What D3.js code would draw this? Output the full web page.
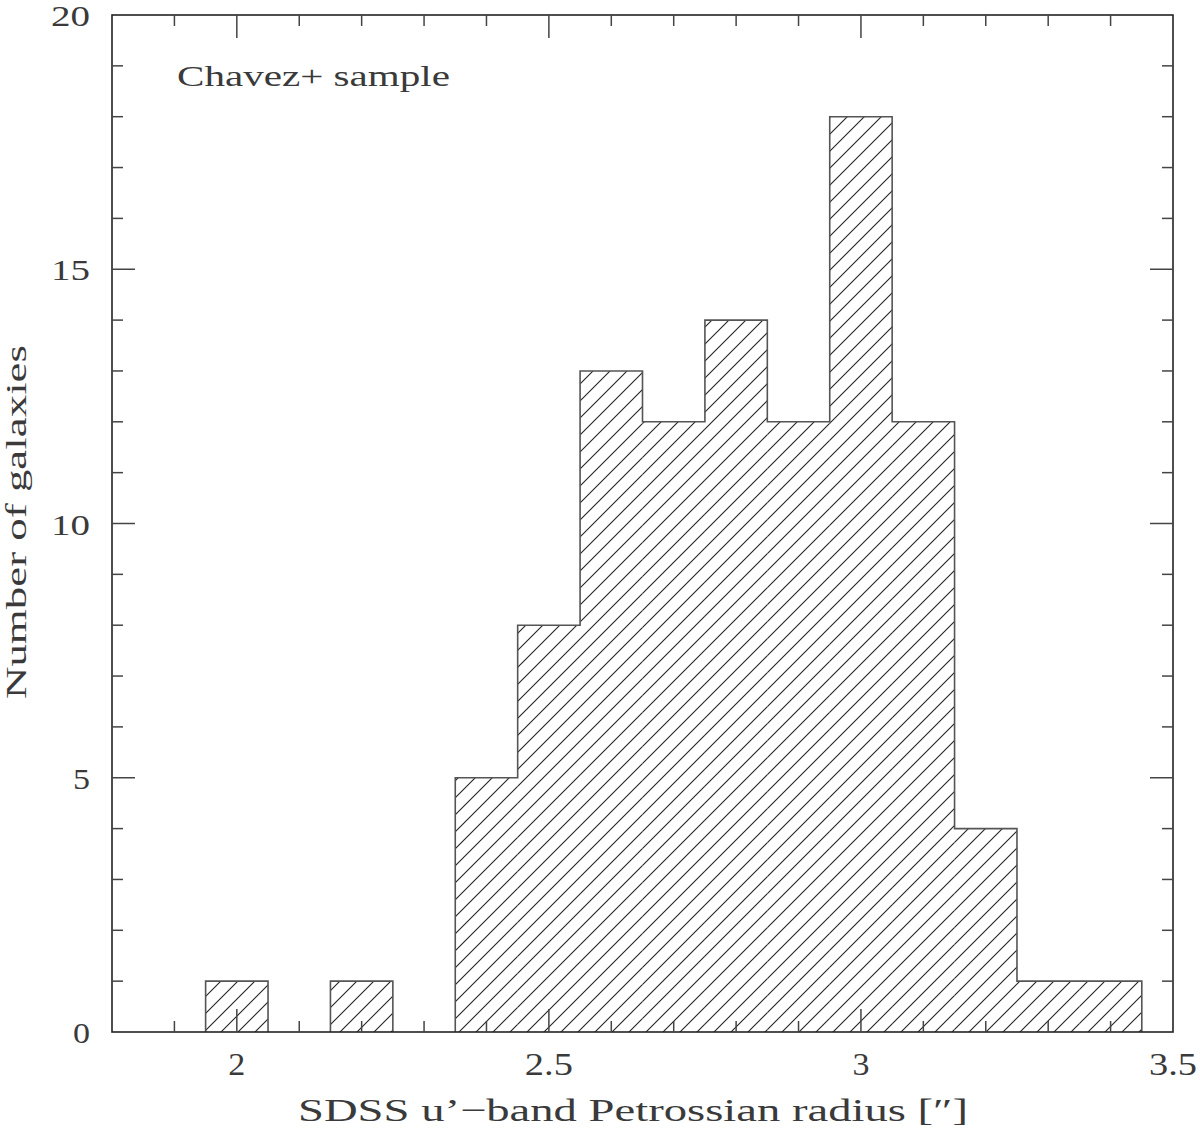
<!DOCTYPE html>
<html><head><meta charset="utf-8">
<script src="https://cdn.jsdelivr.net/npm/d3@7"></script>
<style>body{margin:0;background:#fff}text{font-family:"Liberation Serif","DejaVu Serif",serif;fill:#3a3a3a}</style>
</head><body><svg id="c" width="1200" height="1130"></svg>
<script>
const binLeft = [1.95, 2.15, 2.35, 2.45, 2.55, 2.65, 2.75, 2.85, 2.95, 3.05, 3.15, 3.25, 3.35];
const counts  = [1, 1, 5, 8, 13, 12, 14, 12, 18, 12, 4, 1, 1];
const binWidth = 0.1;
const xTicks = [2, 2.5, 3, 3.5];
const yTicks = [0, 5, 10, 15, 20];
const xLabel = "SDSS u\u2019\u2212band Petrossian radius [\u2033]";
const yLabel = "Number of galaxies";
const note = "Chavez+ sample";

const svg = d3.select("#c");
const L=112, R=1173, T=15, B=1032;
const x = d3.scaleLinear().domain([1.8,3.5]).range([L,R]);
const y = d3.scaleLinear().domain([0,20]).range([B,T]);

const defs = svg.append("defs");
const s = 17;
const pat = defs.append("pattern").attr("id","hatch").attr("patternUnits","userSpaceOnUse")
  .attr("width",s).attr("height",s).attr("x",0).attr("y",B);
pat.append("path").attr("d",`M${-s/2},${s/2} L${s/2},${-s/2} M0,${s} L${s},0 M${s/2},${s*1.5} L${s*1.5},${s/2}`)
  .attr("stroke","#222").attr("stroke-width",1.1).attr("fill","none");

// bins
const bins = binLeft.map((b,i)=>({x0:+b.toFixed(2),x1:+(b+binWidth).toFixed(2),n:counts[i]}));
svg.append("g").selectAll("rect").data(bins).join("rect")
  .attr("x",d=>x(d.x0)).attr("width",d=>x(d.x1)-x(d.x0))
  .attr("y",d=>y(d.n)).attr("height",d=>y(0)-y(d.n))
  .attr("fill","url(#hatch)");

// outline as step path for contiguous groups
const groups = [];
bins.forEach(d=>{
  const g = groups[groups.length-1];
  if (g && Math.abs(g[g.length-1].x1 - d.x0) < 1e-6) g.push(d); else groups.push([d]);
});
const line = d3.line().x(p=>x(p[0])).y(p=>y(p[1]));
groups.forEach(g=>{
  const pts = [[g[0].x0,0]];
  g.forEach(d=>{ pts.push([d.x0,d.n]); pts.push([d.x1,d.n]); });
  pts.push([g[g.length-1].x1,0]);
  svg.append("path").attr("d",line(pts)).attr("fill","none")
    .attr("stroke","#555").attr("stroke-width",1.6);
});

// frame
svg.append("rect").attr("x",L).attr("y",T).attr("width",R-L).attr("height",B-T)
  .attr("fill","none").attr("stroke","#222").attr("stroke-width",1.6);

// ticks
const tk = svg.append("g").attr("stroke","#444").attr("stroke-width",1.5);
const xMinor = d3.range(1.9,3.45,0.1).map(v=>+v.toFixed(2));
xMinor.forEach(v=>{
  const major = xTicks.some(t=>Math.abs(t-v)<1e-6);
  const len = major?23:11;
  tk.append("line").attr("x1",x(v)).attr("x2",x(v)).attr("y1",B).attr("y2",B-len);
  tk.append("line").attr("x1",x(v)).attr("x2",x(v)).attr("y1",T).attr("y2",T+len);
});
d3.range(1,20).forEach(v=>{
  const major = v%5===0;
  const len = major?23:11;
  tk.append("line").attr("y1",y(v)).attr("y2",y(v)).attr("x1",L).attr("x2",L+len);
  tk.append("line").attr("y1",y(v)).attr("y2",y(v)).attr("x1",R).attr("x2",R-len);
});

// tick labels
svg.append("g").selectAll("text").data(xTicks).join("text")
  .attr("x",d=>x(d)).attr("y",B+43).attr("text-anchor","middle")
  .attr("font-size",31).attr("lengthAdjust","spacingAndGlyphs")
  .attr("textLength",d=>String(d).length===1?17:48).text(d=>d);
svg.append("g").selectAll("text").data(yTicks).join("text")
  .attr("x",L-22).attr("y",d=>y(d)+11).attr("text-anchor","end")
  .attr("font-size",30).attr("lengthAdjust","spacingAndGlyphs")
  .attr("textLength",d=>String(d).length===1?17:39).text(d=>d);

svg.append("text").attr("x",633).attr("y",1121).attr("text-anchor","middle")
  .attr("font-size",32).attr("textLength",670).attr("lengthAdjust","spacingAndGlyphs").text(xLabel);
svg.append("text").attr("transform",`translate(26,522) rotate(-90)`).attr("text-anchor","middle")
  .attr("font-size",29).attr("textLength",354).attr("lengthAdjust","spacingAndGlyphs").text(yLabel);
svg.append("text").attr("x",177).attr("y",86).attr("font-size",30)
  .attr("textLength",273).attr("lengthAdjust","spacingAndGlyphs").text(note);
</script></body></html>
